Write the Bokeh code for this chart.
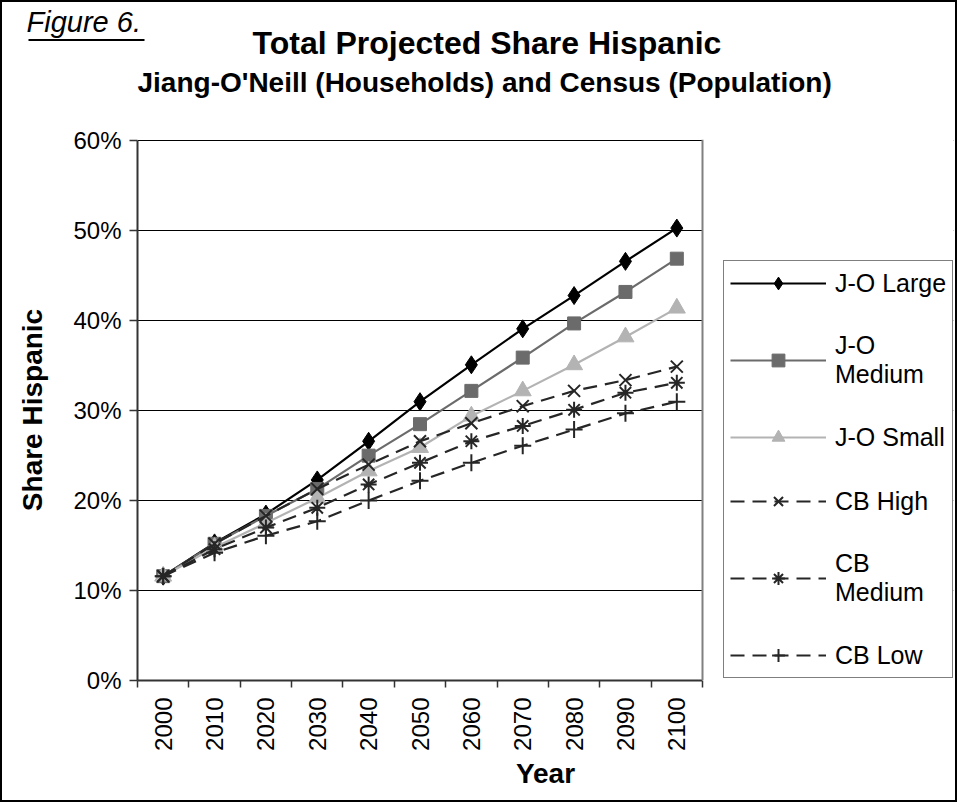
from bokeh.plotting import figure
from bokeh.models import (Range1d, FixedTicker, PrintfTickFormatter, Legend, LegendItem, Title,
                          ColorBar, LinearColorMapper, BoxAnnotation, Span)
from bokeh.embed import file_html
from bokeh.resources import INLINE
import math

# ---- data ----
years = [2000, 2010, 2020, 2030, 2040, 2050, 2060, 2070, 2080, 2090, 2100]
jo_large = [11.6, 15.3, 18.5, 22.3, 26.6, 31.0, 35.1, 39.1, 42.8, 46.6, 50.3]
jo_medium = [11.6, 15.2, 18.3, 21.3, 25.0, 28.5, 32.2, 35.9, 39.7, 43.2, 46.9]
jo_small = [11.6, 14.8, 17.5, 20.3, 23.3, 25.9, 29.4, 32.2, 35.1, 38.2, 41.4]
cb_high = [11.6, 15.2, 18.3, 21.3, 24.0, 26.6, 28.6, 30.5, 32.2, 33.4, 34.9]
cb_medium = [11.6, 14.6, 17.0, 19.2, 21.8, 24.2, 26.6, 28.3, 30.1, 32.0, 33.1]
cb_low = [11.6, 14.2, 16.1, 17.7, 20.0, 22.2, 24.2, 26.1, 27.9, 29.7, 31.0]
y_ticks = [0, 10, 20, 30, 40, 50, 60]
series_names = ["J-O Large", "J-O\nMedium", "J-O Small", "CB High", "CB\nMedium", "CB Low"]

FONT = "Liberation Sans"

# plot area spans years[0]-5 .. years[-1]+5 (565 px); frame continues right to hold the legend
x_lo, x_hi = years[0] - 5, years[-1] + 5
frame_w = 957 - 135 - 6
x_end = x_lo + (x_hi - x_lo) * frame_w / 565.0

p = figure(width=957, height=802, output_backend="svg", toolbar_location=None,
           x_range=Range1d(x_lo, x_end), y_range=Range1d(y_ticks[0], y_ticks[-1] + 0.15),
           min_border_left=135, min_border_right=6, min_border_top=137,
           min_border_bottom=124)
p.styles = {"border": "2px solid black", "box-sizing": "border-box", "overflow": "hidden"}
p.background_fill_color = "white"
p.border_fill_color = "white"
p.outline_line_color = None

# grid
p.xgrid.visible = False
p.ygrid.ticker = FixedTicker(ticks=y_ticks)
p.ygrid.grid_line_color = "black"
p.ygrid.grid_line_width = 1

# x axis
xa = p.xaxis[0]
xa.bounds = (x_lo, x_hi)
xa.ticker = FixedTicker(ticks=years, minor_ticks=[y - 5 for y in years] + [x_hi])
xa.major_tick_line_color = None
xa.minor_tick_line_color = "#333333"
xa.minor_tick_line_width = 1.5
xa.minor_tick_out = 7
xa.minor_tick_in = 0
xa.axis_line_color = "#333333"
xa.axis_line_width = 2
xa.major_label_orientation = math.pi / 2
xa.major_label_text_font = FONT
xa.major_label_text_font_size = "24px"
xa.major_label_text_color = "black"
xa.major_label_standoff = 10
xa.axis_label = "Year"
xa.axis_label_text_font = FONT
xa.axis_label_text_font_style = "bold"
xa.axis_label_text_font_size = "28px"
xa.axis_label_text_color = "black"
xa.axis_label_standoff = 4

# y axis
ya = p.yaxis[0]
ya.bounds = (y_ticks[0], y_ticks[-1])
ya.ticker = FixedTicker(ticks=y_ticks)
ya.formatter = PrintfTickFormatter(format="%d%%")
ya.minor_tick_line_color = None
ya.major_tick_line_color = "#333333"
ya.major_tick_line_width = 1.5
ya.major_tick_out = 8
ya.major_tick_in = 0
ya.axis_line_color = "#333333"
ya.axis_line_width = 2
ya.major_label_text_font = FONT
ya.major_label_text_font_size = "24px"
ya.major_label_text_color = "black"
ya.major_label_standoff = 8
ya.axis_label = "Share Hispanic"
ya.axis_label_text_font = FONT
ya.axis_label_text_font_style = "bold"
ya.axis_label_text_font_size = "28px"
ya.axis_label_text_color = "black"
ya.axis_label_standoff = 22

# ---- series ----
dash = "14 8"
specs = [
    (jo_large, "black", "solid", "diamond", 18, "black"),
    (jo_medium, "#6b6b6b", "solid", "square", 13, "#6b6b6b"),
    (jo_small, "#b3b3b3", "solid", "triangle", 17, "#b3b3b3"),
    (cb_high, "#262626", dash, "x", 17, None),
    (cb_medium, "#262626", dash, "asterisk", 16, None),
    (cb_low, "#262626", dash, "cross", 17, None),
]
items = []
for (vals, col, ld, mk, sz, fill), name in zip(specs, series_names):
    ln = p.line(years, vals, line_color=col, line_width=2.2, line_dash=ld)
    sc = p.scatter(years, vals, marker=mk, size=sz,
                   line_color=col, line_width=2 if fill is None else 1,
                   fill_color=fill if fill is not None else None)
    items.append(LegendItem(label=name, renderers=[ln, sc]))

# blank area right of the plot area, and the plot area's gray right edge
p.add_layout(BoxAnnotation(left=x_hi, top=y_ticks[-1] + 5, bottom=y_ticks[0] - 5,
                           fill_color="white", fill_alpha=1, line_color=None))
p.add_layout(Span(location=x_hi, dimension="height", line_color="#808080", line_width=2))

legend = Legend(items=items, location=(586, 2), orientation="vertical",
                glyph_width=96, glyph_height=32, label_height=24,
                label_standoff=9, spacing=32, padding=6, margin=0,
                label_text_font=FONT, label_text_font_size="25px",
                label_text_color="black",
                border_line_color="black", border_line_width=1.5,
                background_fill_color="white", background_fill_alpha=1)
p.add_layout(legend, "center")

# ---- titles (first added = nearest the frame) ----
p.add_layout(Title(text=" ", text_font_size="1px", standoff=38.4), "above")
p.add_layout(Title(text="Jiang-O'Neill (Households) and Census (Population)",
                   align="left", offset=0, standoff=0, text_font=FONT,
                   text_font_style="bold", text_font_size="28px", text_color="black"),
             "above")
p.add_layout(Title(text="Total Projected Share Hispanic", align="left", offset=115,
                   standoff=7.8, text_font=FONT, text_font_style="bold",
                   text_font_size="32px", text_color="black"), "above")
p.add_layout(Title(text="Figure 6.", align="left", offset=-111, standoff=-38,
                   text_font=FONT, text_font_style="italic", text_font_size="29px",
                   text_color="black"), "above")

# ---- underline of "Figure 6." (thin black bar), outermost item of the top panel ----
ul = ColorBar(color_mapper=LinearColorMapper(palette=["black"], low=0, high=1),
              orientation="horizontal", width=116, height=2, location=(-109, -22.5),
              ticker=FixedTicker(ticks=[]), major_label_text_font_size="0px",
              major_tick_line_color=None, minor_tick_line_color=None,
              bar_line_color=None, border_line_color=None,
              background_fill_color=None, padding=0, margin=0, label_standoff=0)
p.add_layout(ul, "above")

open("out.html", "w").write(file_html(p, INLINE))
